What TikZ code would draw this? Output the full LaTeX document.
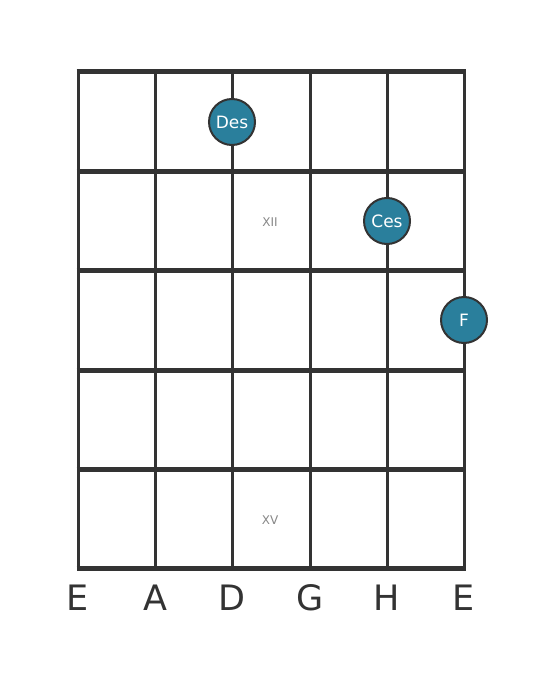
\documentclass[tikz,border=0pt]{standalone}
\usepackage{fontspec}
\setmainfont{DejaVu Sans}
\definecolor{gridc}{HTML}{333333}
\definecolor{notec}{HTML}{2A7F9C}
\definecolor{markc}{HTML}{888888}
\begin{document}
\begin{tikzpicture}[x=1pt,y=-1pt,
  fret/.style={draw=gridc,line width=5pt},
  strg/.style={draw=gridc,line width=3pt},
  note/.style={circle,draw=gridc,line width=2pt,fill=notec,minimum size=46pt,inner sep=0pt,text=white,font=\fontsize{17}{17}\selectfont},
  fretmark/.style={text=markc,font=\fontsize{12}{12}\selectfont},
  slabel/.style={text=gridc,font=\fontsize{35}{35}\selectfont}]
\useasboundingbox[fill=white] (0,0) rectangle (559,682);
\foreach \x/\n in {78/s1,155/s2,232/s3,310/s4,387/s5,464/s6}{
  \coordinate (\n top) at (\x,72);
  \coordinate (\n bot) at (\x,568);
  \draw[strg] (\n top) -- (\n bot);
}
\foreach \y/\n in {72/f0,171/f1,270/f2,370/f3,469/f4,568/f5}{
  \coordinate (\n l) at (76.5,\y);
  \coordinate (\n r) at (465.5,\y);
  \draw[fret] (\n l) -- (\n r);
}
\node[fretmark] (m12) at (270,222) {XII};
\node[fretmark] (m15) at (270,520) {XV};
\node[note] (des) at (232,122) {Des};
\node[note] (ces) at (387,221) {Ces};
\node[note] (f) at (464,320) {F};
\foreach \x/\t/\n in {78/E/l1,155/A/l2,232/D/l3,310/G/l4,387/H/l5,464/E/l6}{
  \node[slabel] (\n) at (\x,598) {\t};
}
\end{tikzpicture}
\end{document}
